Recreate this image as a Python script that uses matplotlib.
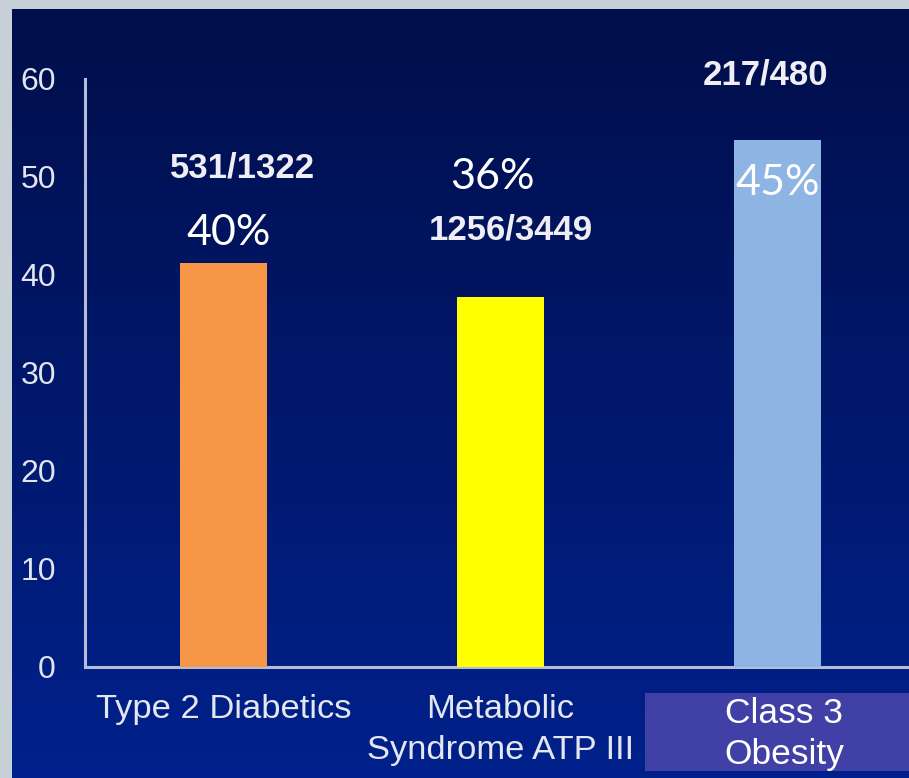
import numpy as np
import matplotlib
matplotlib.use("Agg")
import matplotlib.pyplot as plt
from matplotlib.transforms import blended_transform_factory
from matplotlib.patches import Rectangle

# ---- data ----
categories = ["Type 2 Diabetics", "Metabolic\nSyndrome ATP III", "Class 3\nObesity"]
values = [41.2, 37.8, 53.8]
counts = ["531/1322", "1256/3449", "217/480"]
percents = ["40%", "36%", "45%"]
bar_colors = ["#f79646", "#ffff00", "#8eb4e3"]
yticks = [0, 10, 20, 30, 40, 50, 60]

# annotation layout (x offset from category, y in data units)
count_pos = [(0.069, 50.9), (1.036, 44.6), (1.957, 60.4)]
pct_pos = [(0.018, 44.3), (0.971, 50.0), (2.0, 49.4)]

W, H = 909, 778
fig = plt.figure(figsize=(W / 100, H / 100), dpi=100)
fig.patch.set_facecolor("#c6d0d6")

# gradient background
bg = fig.add_axes([12 / W, 0, 1 - 12 / W, 1 - 9 / H], zorder=-1)
top = np.array([0x00, 0x0e, 0x4a]) / 255
bot = np.array([0x00, 0x21, 0x8c]) / 255
t = np.linspace(0, 1, 256)[:, None]
grad = top[None, :] * (1 - t) + bot[None, :] * t
bg.imshow(grad[:, None, :], aspect="auto", extent=[0, 1, 0, 1])
bg.set_axis_off()

ax = fig.add_axes([85 / W, (H - 667) / H, 831 / W, (667 - 79) / H])
ax.patch.set_alpha(0)
x = np.arange(len(categories))
ax.bar(x, values, width=0.314, color=bar_colors, zorder=3)
ax.set_xlim(-0.5, 2.5)
ax.set_ylim(0, 60)
ax.set_yticks(yticks)
ax.set_yticklabels([str(v) for v in yticks], fontsize=23,
                   family="Liberation Sans", color="#e2e4ee")
ax.tick_params(axis="y", length=0, pad=21)
ax.set_xticks([])
for s in ["top", "right"]:
    ax.spines[s].set_visible(False)
for s in ["left", "bottom"]:
    ax.spines[s].set_color("#b4bcd8")
    ax.spines[s].set_linewidth(2.2)

for i in range(len(categories)):
    cx, cy = count_pos[i]
    ax.text(cx, cy, counts[i], ha="center", va="center", fontsize=25,
            fontweight="bold", family="Liberation Sans", color="#eeeef4")
    px, py = pct_pos[i]
    ax.text(px, py, percents[i], ha="center", va="center", fontsize=31,
            family="Lato", color="white")

tr = blended_transform_factory(ax.transData, fig.transFigure)
# category labels
ax.text(0, 1 - 694 / H, categories[0], transform=tr, ha="center", va="top",
        fontsize=24.8, family="Liberation Sans", color="#e4e6f0", clip_on=False)
ax.text(1, 1 - 694 / H, categories[1], transform=tr, ha="center", va="top",
        fontsize=24.8, family="Liberation Sans", color="#e4e6f0",
        linespacing=1.4, clip_on=False)
fig.patches.append(Rectangle((645 / W, 1 - 771 / H), (W - 645) / W, 78 / H,
                             transform=fig.transFigure, facecolor="#4040a6",
                             edgecolor="none", zorder=5))
fig.text(784 / W, 1 - 734 / H, categories[2], ha="center", va="center",
         fontsize=25.5, family="Liberation Sans", color="white",
         linespacing=1.3, zorder=6)

fig.savefig("out.png", dpi=100, facecolor=fig.get_facecolor())
